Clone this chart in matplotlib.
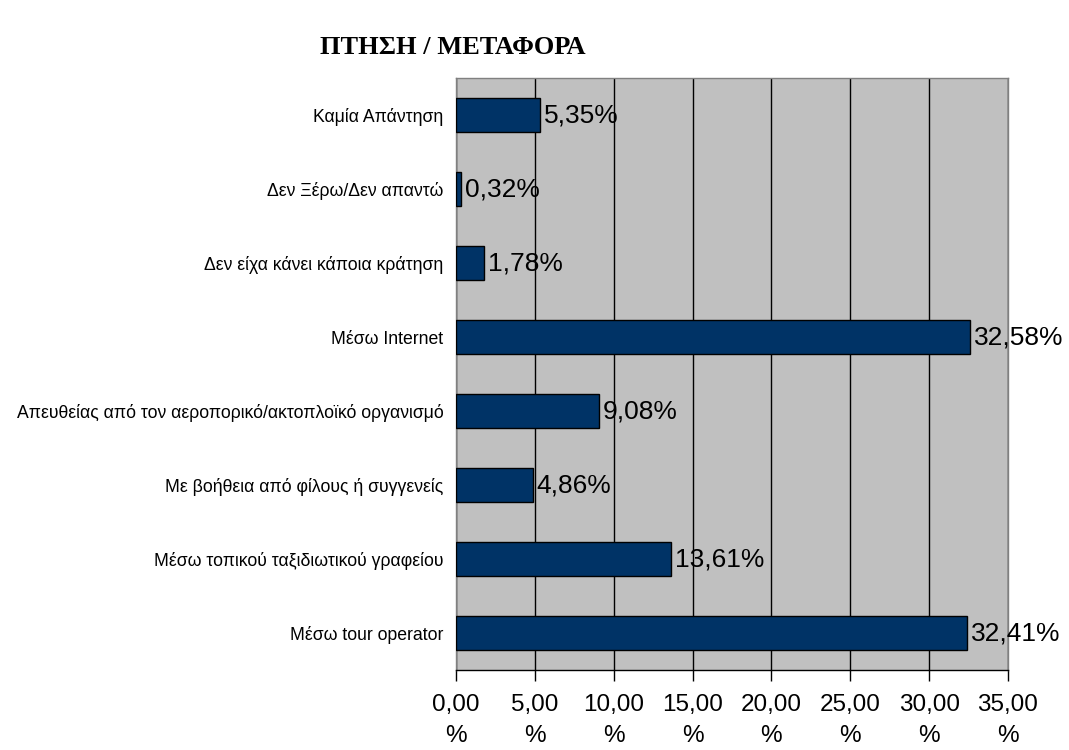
import matplotlib
matplotlib.use("Agg")
import matplotlib.pyplot as plt

categories = [
    "Μέσω tour operator",
    "Μέσω τοπικού ταξιδιωτικού γραφείου",
    "Με βοήθεια από φίλους ή συγγενείς",
    "Απευθείας από τον αεροπορικό/ακτοπλοϊκό οργανισμό",
    "Μέσω Internet",
    "Δεν είχα κάνει κάποια κράτηση",
    "Δεν Ξέρω/Δεν απαντώ",
    "Καμία Απάντηση",
]
values = [32.41, 13.61, 4.86, 9.08, 32.58, 1.78, 0.32, 5.35]
xticks = [0, 5, 10, 15, 20, 25, 30, 35]

plt.rcParams["font.family"] = ["Liberation Sans", "DejaVu Sans"]

fig = plt.figure(figsize=(10.69, 7.5), dpi=100)
ax = fig.add_axes([456 / 1069, 80 / 750, 552 / 1069, 592 / 750])
ax.set_facecolor("#c0c0c0")

ypos = list(range(len(categories)))
ax.barh(ypos, values, height=0.47, color="#003366", edgecolor="black",
        linewidth=1.0, zorder=3)

for y, v in zip(ypos, values):
    ax.text(v + 0.25, y, f"{v:.2f}%".replace(".", ","), va="center",
            ha="left", fontsize=19, color="black", zorder=4)

ax.set_xlim(0, 35)
ax.set_ylim(-0.5, len(categories) - 0.5)
ax.set_xticks(xticks)
ax.set_xticklabels([f"{t:.2f}\n%".replace(".", ",") for t in xticks],
                   fontsize=17.5, linespacing=1.55)
ax.set_yticks(ypos)
ax.set_yticklabels(categories, fontsize=12.7)
ax.tick_params(axis="y", length=0, pad=9)
ax.tick_params(axis="x", length=8, width=1, color="black", pad=9,
               direction="out")

ax.grid(axis="x", color="black", linewidth=1.0, zorder=1)
for name, spine in ax.spines.items():
    spine.set_color("#808080")
    spine.set_linewidth(1.0)
ax.spines["bottom"].set_color("black")

fig.text(453 / 1069, 1 - 48 / 750, "ΠΤΗΣΗ / ΜΕΤΑΦΟΡΑ", ha="center",
         va="center", fontsize=19, fontweight="bold",
         family=["Liberation Serif", "DejaVu Serif"])

fig.savefig("out.png", dpi=100)
